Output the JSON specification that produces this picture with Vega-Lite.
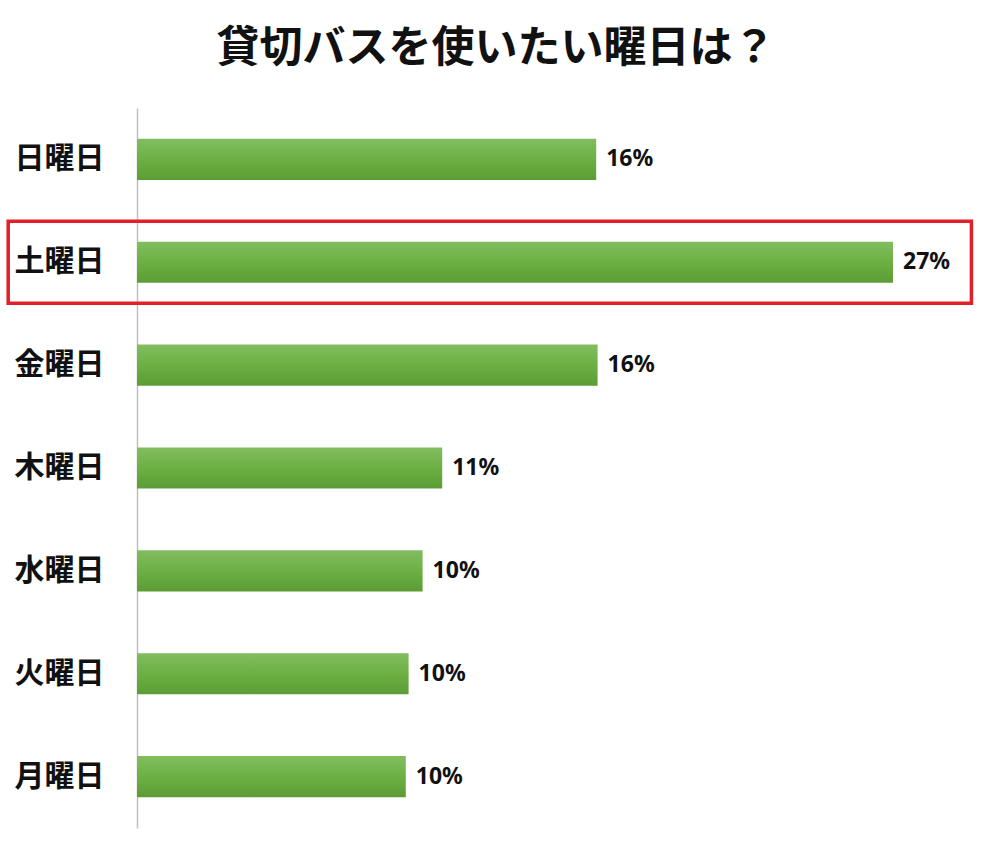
{
  "$schema": "https://vega.github.io/schema/vega-lite/v6.json",
  "width": 840,
  "height": 720,
  "autosize": "none",
  "padding": {"left": 137, "top": 108, "right": 23, "bottom": 18},
  "background": "white",
  "title": {
    "text": "貸切バスを使いたい曜日は？",
    "font": "Noto Sans CJK JP",
    "fontSize": 43,
    "fontWeight": "bold",
    "color": "#111111",
    "anchor": "middle",
    "dx": -61,
    "offset": 37
  },
  "datasets": {
    "days": [
      {"day": "日曜日", "value": 0.164},
      {"day": "土曜日", "value": 0.27},
      {"day": "金曜日", "value": 0.1645},
      {"day": "木曜日", "value": 0.109},
      {"day": "水曜日", "value": 0.102},
      {"day": "火曜日", "value": 0.097},
      {"day": "月曜日", "value": 0.096}
    ],
    "box": [
      {"day": "土曜日", "start": -0.046, "end": 0.298}
    ]
  },
  "encoding": {
    "y": {
      "field": "day",
      "type": "nominal",
      "sort": null,
      "scale": {"domain": ["日曜日", "土曜日", "金曜日", "木曜日", "水曜日", "火曜日", "月曜日"], "paddingInner": 0.6, "paddingOuter": 0.3},
      "axis": {
        "title": null,
        "ticks": false,
        "domainColor": "#bfbfbf",
        "domainWidth": 1.5,
        "labelFont": "Noto Sans CJK JP",
        "labelFontSize": 30,
        "labelFontWeight": "bold",
        "labelColor": "#111111",
        "labelPadding": 33
      }
    }
  },
  "layer": [
    {
      "data": {"name": "days"},
      "mark": {
        "type": "bar",
        "fill": {
          "gradient": "linear",
          "x1": 0, "y1": 0, "x2": 0, "y2": 1,
          "stops": [
            {"offset": 0, "color": "#82bd60"},
            {"offset": 0.5, "color": "#6cb043"},
            {"offset": 1, "color": "#5c9c36"}
          ]
        }
      },
      "encoding": {
        "x": {
          "field": "value",
          "type": "quantitative",
          "scale": {"domain": [0, 0.3]},
          "axis": null
        }
      }
    },
    {
      "data": {"name": "days"},
      "mark": {
        "type": "text",
        "align": "left",
        "baseline": "middle",
        "dx": 10,
        "font": "Noto Sans",
        "fontSize": 23,
        "fontWeight": "bold",
        "color": "#111111"
      },
      "encoding": {
        "x": {"field": "value", "type": "quantitative"},
        "text": {"field": "value", "type": "quantitative", "format": ".0%"}
      }
    },
    {
      "data": {"name": "box"},
      "mark": {
        "type": "bar",
        "height": 82,
        "fill": null,
        "fillOpacity": 0,
        "stroke": "#e2202b",
        "strokeWidth": 3.5
      },
      "encoding": {
        "x": {"field": "start", "type": "quantitative"},
        "x2": {"field": "end"}
      }
    }
  ],
  "config": {"view": {"stroke": null}}
}
